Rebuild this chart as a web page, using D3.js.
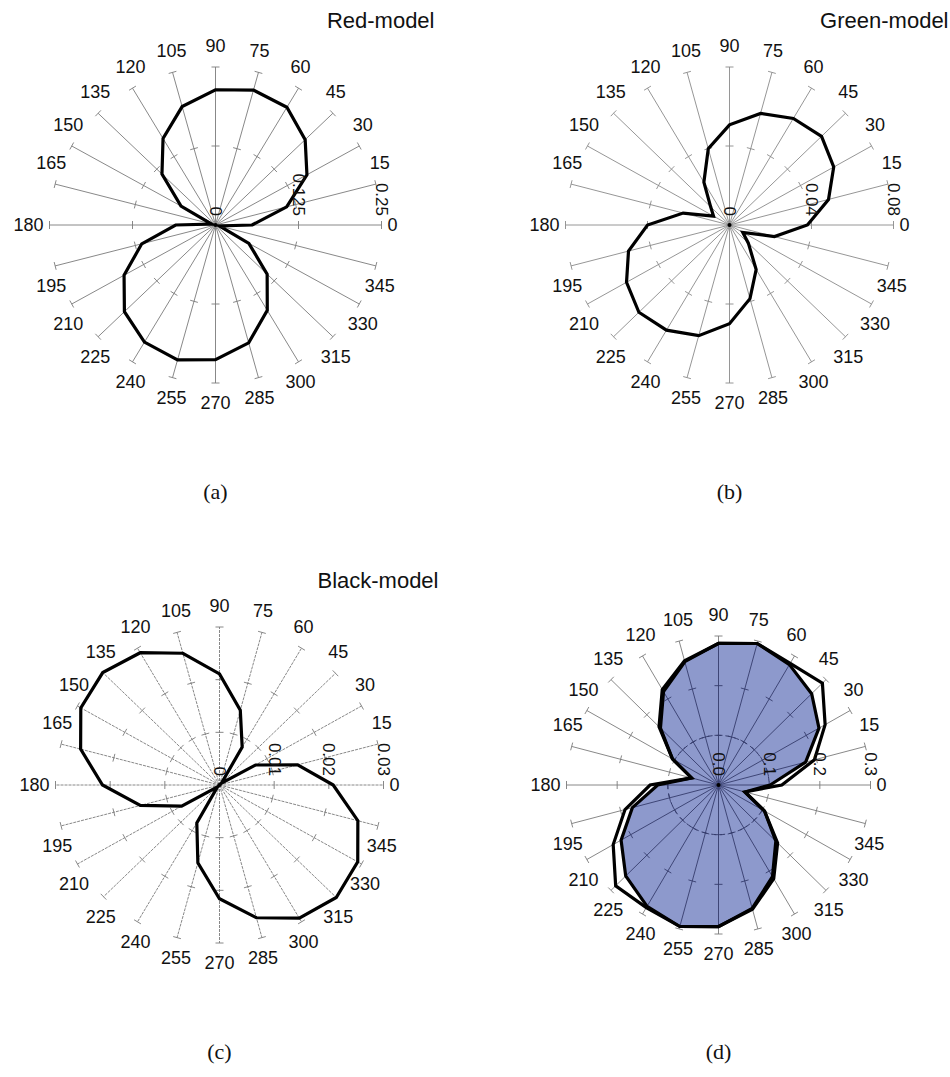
<!DOCTYPE html>
<html>
<head>
<meta charset="utf-8">
<script src="https://cdn.jsdelivr.net/npm/d3@7"></script>
<style>
  body { margin: 0; background: #fff; }
  svg text { font-family: "Liberation Sans", Arial, sans-serif; fill: #111; }
</style>
</head>
<body>
<svg id="chart" width="950" height="1077"></svg>
<script>
// angles of the spokes, degrees, counter-clockwise from the right
var angles = d3.range(0, 360, 15);

// radius read at each angle (0, 15, ... 345)
var redModel = [0.055, 0.111, 0.159, 0.191, 0.215, 0.221, 0.214, 0.194, 0.158, 0.114, 0.060, 0.006,
                0.060, 0.115, 0.159, 0.194, 0.214, 0.221, 0.213, 0.193, 0.156, 0.110, 0.058, 0.006];
var greenModel = [0.038, 0.050, 0.0587, 0.0635, 0.0623, 0.0585, 0.0507, 0.040, 0.025, 0.013, 0.009, 0.0234,
                  0.040, 0.051, 0.058, 0.0625, 0.0615, 0.058, 0.050, 0.0386, 0.026, 0.013, 0.0075, 0.0227];
var blackModel = [0.0208, 0.0148, 0.0076, 0.0005, 0.0083, 0.0147, 0.0211, 0.0259, 0.029, 0.0302, 0.0293, 0.0263,
                  0.0214, 0.015, 0.008, 0.0005, 0.0083, 0.0153, 0.0216, 0.0261, 0.0292, 0.0302, 0.0292, 0.0262];
var measured = [0.102, 0.178, 0.229, 0.26, 0.28, 0.295, 0.285, 0.257, 0.217, 0.162, 0.105, 0.055,
                0.12, 0.176, 0.222, 0.259, 0.282, 0.295, 0.285, 0.257, 0.213, 0.16, 0.105, 0.054];
var combined = [0.125, 0.196, 0.243, 0.29, 0.283, 0.295, 0.285, 0.259, 0.222, 0.166, 0.105, 0.055,
                0.135, 0.191, 0.24, 0.287, 0.285, 0.295, 0.285, 0.259, 0.218, 0.165, 0.105, 0.054];

var redTicks = [0, 0.125, 0.25], redTickLabels = ["0", "0.125", "0.25"];
var greenTicks = [0, 0.04, 0.08], greenTickLabels = ["0", "0.04", "0.08"];
var blackTicks = [0, 0.01, 0.02, 0.03], blackTickLabels = ["0", "0.01", "0.02", "0.03"];
var sumTicks = [0, 0.1, 0.2, 0.3], sumTickLabels = ["0.0", "0.1", "0.2", "0.3"];

var titles = ["Red-model", "Green-model", "Black-model", ""];
var captions = ["(a)", "(b)", "(c)", "(d)"];

var panels = [
  {cx: 215.5, cy: 225, rx: 166, ry: 158, ticks: redTicks, labels: redTickLabels, spoke: "#7a7a7a",
   series: [{values: redModel}]},
  {cx: 729.5, cy: 225, rx: 164, ry: 158, ticks: greenTicks, labels: greenTickLabels, spoke: "#8a8a8a",
   series: [{values: greenModel}]},
  {cx: 219.5, cy: 785, rx: 164, ry: 158, ticks: blackTicks, labels: blackTickLabels, spoke: "#7a7a7a", dash: "3,1",
   series: [{values: blackModel}]},
  {cx: 718.5, cy: 785, rx: 152, ry: 149, ticks: sumTicks, labels: sumTickLabels, spoke: "#7a7a7a", circle: 0.1,
   series: [{values: measured, fill: "#8d99cc"}, {values: combined}]}
];

var svg = d3.select("#chart");
var rad = Math.PI / 180;

panels.forEach(function(p, i) {
  var max = d3.max(p.ticks);
  var sx = d3.scaleLinear().domain([0, max]).range([0, p.rx]);
  var sy = d3.scaleLinear().domain([0, max]).range([0, p.ry]);
  var px = function(a, v) { return p.cx + sx(v) * Math.cos(a * rad); };
  var py = function(a, v) { return p.cy - sy(v) * Math.sin(a * rad); };

  var g = svg.append("g");

  // spokes with tick marks
  function drawSpokes(layer, colour) {
    layer.selectAll("line.spoke").data(angles).enter().append("line")
      .attr("class", "spoke")
      .attr("x1", p.cx).attr("y1", p.cy)
      .attr("x2", function(a) { return px(a, max); })
      .attr("y2", function(a) { return py(a, max); })
      .attr("stroke", colour).attr("stroke-width", 0.9)
      .attr("stroke-dasharray", p.dash || null);

    var marks = [];
    angles.forEach(function(a) {
      p.ticks.slice(1).forEach(function(t) { marks.push({a: a, t: t}); });
    });
    layer.selectAll("line.mark").data(marks).enter().append("line")
      .attr("class", "mark")
      .each(function(d) {
        var ux = Math.cos(d.a * rad) * p.rx, uy = -Math.sin(d.a * rad) * p.ry;
        var len = Math.sqrt(ux * ux + uy * uy);
        var nx = -uy / len * 4, ny = ux / len * 4;
        var x = px(d.a, d.t), y = py(d.a, d.t);
        d3.select(this).attr("x1", x - nx).attr("y1", y - ny).attr("x2", x + nx).attr("y2", y + ny);
      })
      .attr("stroke", colour).attr("stroke-width", 0.9);
  }
  drawSpokes(g.append("g"), p.spoke);

  var line = d3.line()
    .x(function(d, k) { return px(angles[k], d); })
    .y(function(d, k) { return py(angles[k], d); })
    .curve(d3.curveLinearClosed);

  p.series.forEach(function(s, k) {
    if (s.fill) {
      var id = "clip" + i + "_" + k;
      g.append("clipPath").attr("id", id).append("path").attr("d", line(s.values));
      g.append("path").attr("d", line(s.values)).attr("fill", s.fill);
      var inner = g.append("g").attr("clip-path", "url(#" + id + ")");
      drawSpokes(inner, "#353c6c");
      if (p.circle) {
        inner.append("ellipse").attr("cx", p.cx).attr("cy", p.cy)
          .attr("rx", sx(p.circle)).attr("ry", sy(p.circle))
          .attr("fill", "none").attr("stroke", "#353c6c").attr("stroke-width", 1)
          .attr("stroke-dasharray", "5,4");
      }
    }
  });
  p.series.forEach(function(s) {
    g.append("path").attr("d", line(s.values))
      .attr("fill", "none").attr("stroke", "#000").attr("stroke-width", 3.2)
      .attr("stroke-linejoin", "miter");
  });

  g.append("circle").attr("cx", p.cx).attr("cy", p.cy).attr("r", 2).attr("fill", "#000");

  // angle labels
  g.selectAll("text.ang").data(angles).enter().append("text")
    .attr("class", "ang")
    .attr("font-size", 18)
    .attr("dominant-baseline", "central")
    .attr("text-anchor", function(a) { return a === 0 ? "start" : a === 180 ? "end" : "middle"; })
    .attr("x", function(a) {
      if (a === 0) return px(a, max) + 6;
      if (a === 180) return px(a, max) - 6;
      return px(a, max) + Math.cos(a * rad) * 4;
    })
    .attr("y", function(a) {
      var s = Math.sin(a * rad);
      if (Math.abs(s) < 1e-6) return py(a, max);
      return py(a, max) + (s > 0 ? -21 : 20);
    })
    .text(function(a) { return a; });

  // radial value labels, rotated
  g.selectAll("text.val").data(p.ticks).enter().append("text")
    .attr("class", "val")
    .attr("font-size", 17)
    .attr("text-anchor", "end")
    .attr("dominant-baseline", "central")
    .attr("transform", function(t) { return "translate(" + px(0, t) + "," + (p.cy - 9) + ") rotate(90)"; })
    .text(function(t, k) { return p.labels[k]; });

  if (titles[i]) {
    g.append("text").attr("x", p.cx + 219).attr("y", p.cy - 197)
      .attr("text-anchor", "end").attr("font-size", 22).text(titles[i]);
  }
  g.append("text").attr("x", p.cx).attr("y", p.cy + 274)
    .attr("text-anchor", "middle").attr("font-size", 22)
    .style("font-family", "'Liberation Serif', 'Times New Roman', serif")
    .text(captions[i]);
});
</script>
</body>
</html>
